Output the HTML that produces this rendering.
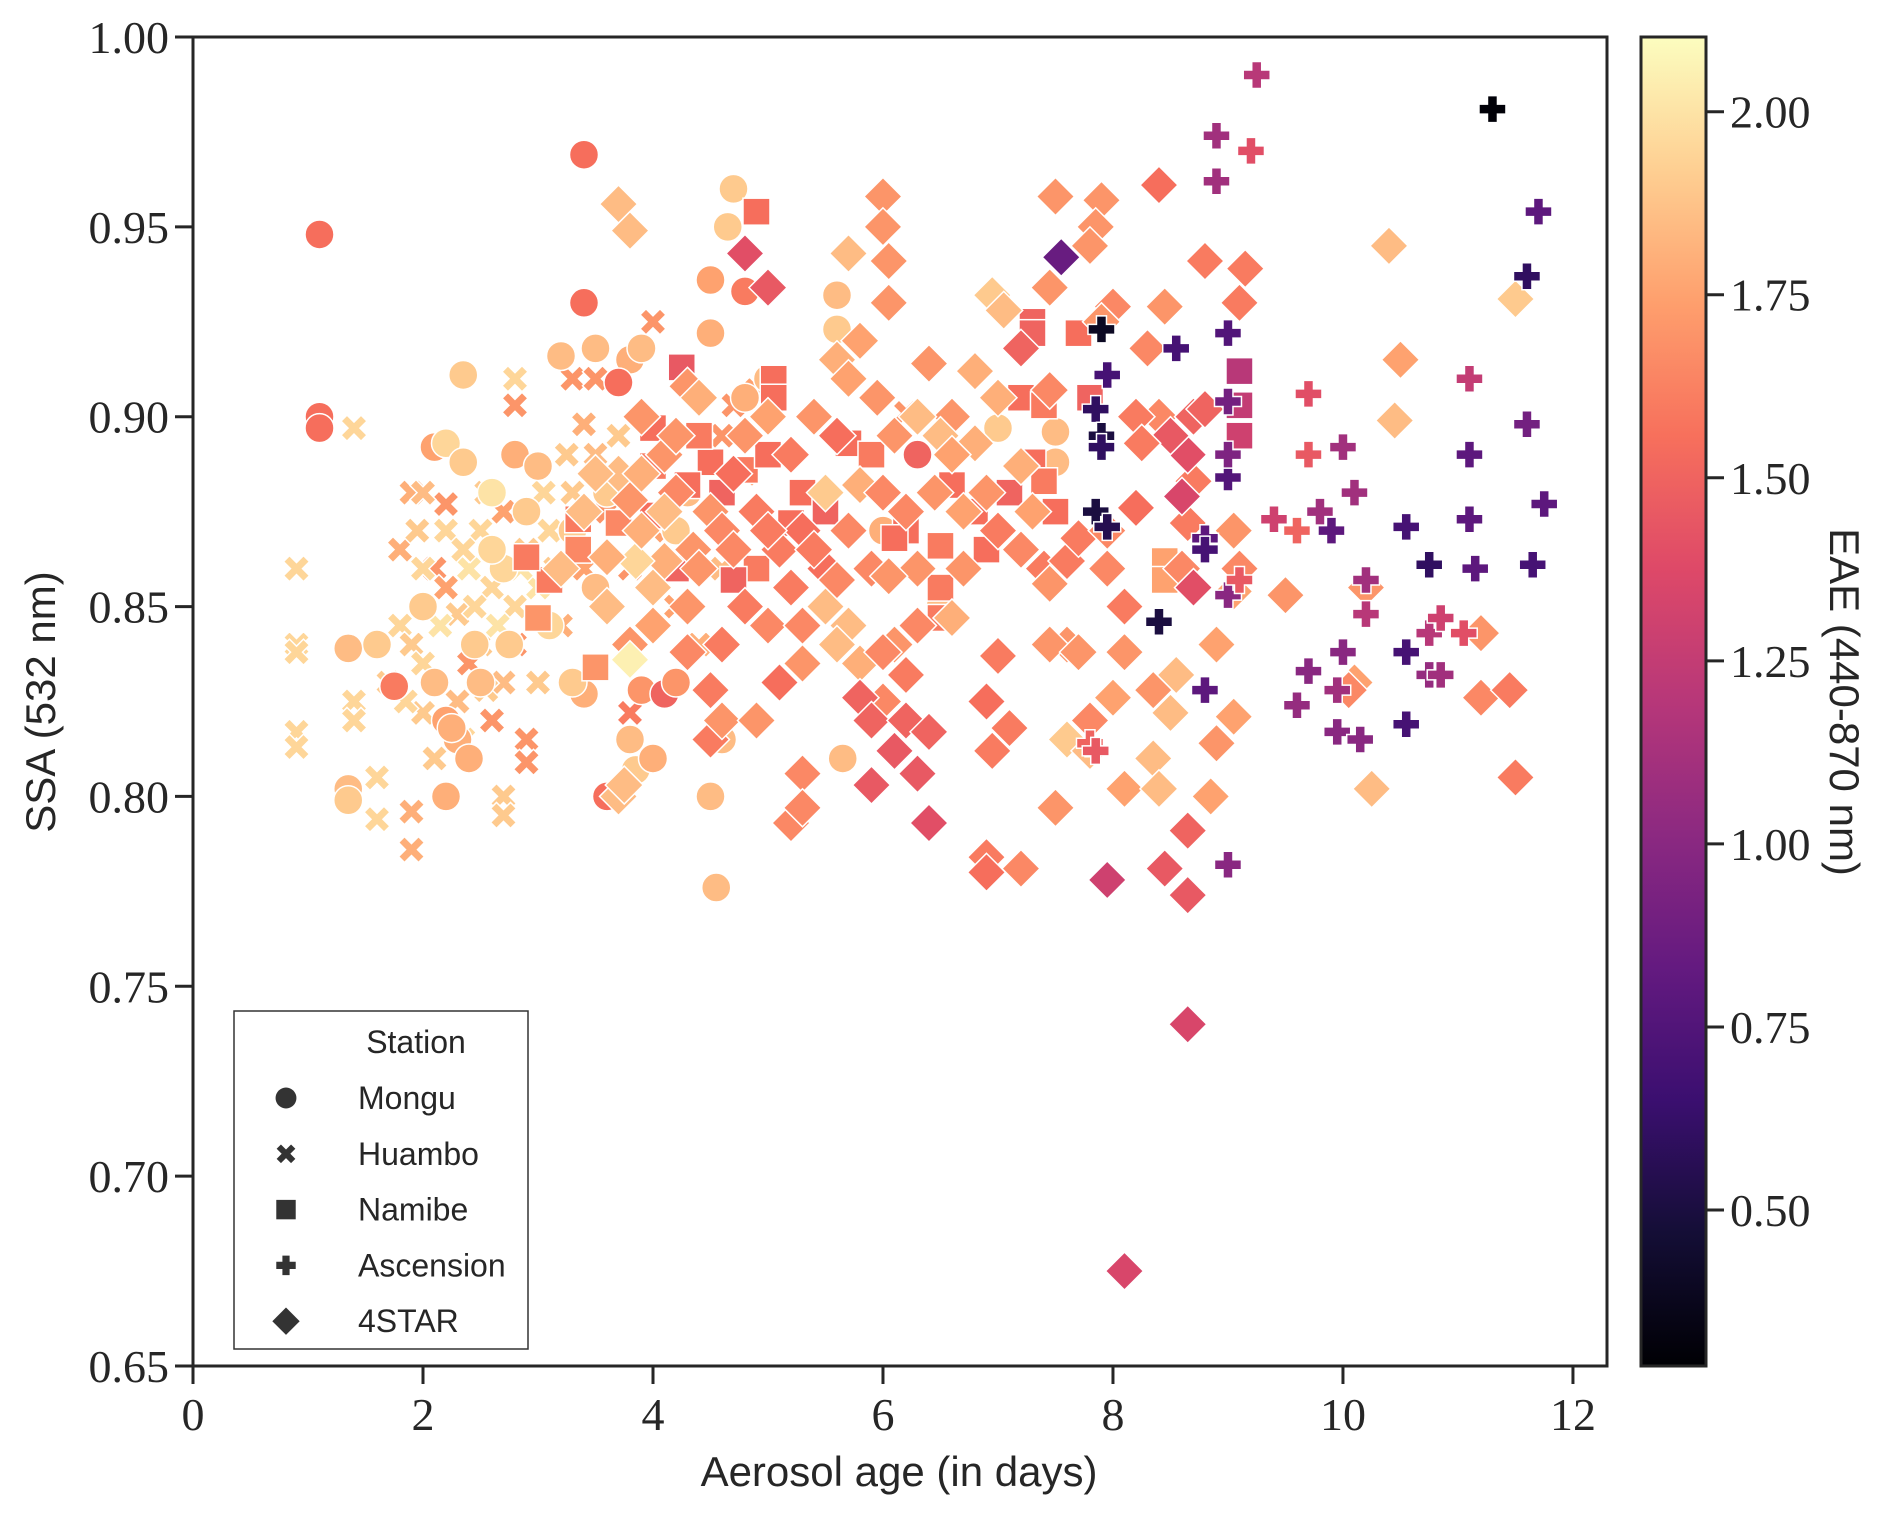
<!DOCTYPE html>
<html><head><meta charset="utf-8"><style>
html,body{margin:0;padding:0;background:#fff;}
svg{display:block;}
</style></head><body>
<svg id="chart" width="1892" height="1521" xmlns="http://www.w3.org/2000/svg">
<defs>
<linearGradient id="magma" x1="0" y1="1" x2="0" y2="0">
<stop offset="0" stop-color="#000004"/><stop offset="0.1" stop-color="#140e36"/><stop offset="0.2" stop-color="#3b0f70"/><stop offset="0.3" stop-color="#641a80"/><stop offset="0.4" stop-color="#8c2981"/><stop offset="0.5" stop-color="#b73779"/><stop offset="0.6" stop-color="#de4968"/><stop offset="0.7" stop-color="#f7705c"/><stop offset="0.8" stop-color="#fe9f6d"/><stop offset="0.9" stop-color="#fecf92"/><stop offset="1" stop-color="#fcfdbf"/>
</linearGradient>
</defs>
<g id="marks"></g>
<rect x="193" y="37" width="1414" height="1329" fill="none" stroke="#262626" stroke-width="3"/>
<g id="axes"></g>
<rect x="1641" y="37" width="65" height="1329" fill="url(#magma)" stroke="#262626" stroke-width="3"/>
<text x="899" y="1486" text-anchor="middle" font-family="Liberation Sans, sans-serif" font-size="42" fill="#262626">Aerosol age (in days)</text>
<text transform="translate(55,702) rotate(-90)" text-anchor="middle" font-family="Liberation Sans, sans-serif" font-size="42" fill="#262626">SSA (532 nm)</text>
<text transform="translate(1830,702) rotate(90)" text-anchor="middle" font-family="Liberation Sans, sans-serif" font-size="42" fill="#262626">EAE (440-870 nm)</text>
<g>
<rect x="234" y="1011" width="294" height="338" fill="#fff" stroke="#333" stroke-width="1.5"/>
<text x="416" y="1053" text-anchor="middle" font-family="Liberation Sans, sans-serif" font-size="32" fill="#262626">Station</text>
<g id="legend-entries"></g>
</g>
</svg>
<script>
// [age, ssa, eae]
const mongu=[[1.1,0.948,1.55],[1.1,0.900,1.55],[1.1,0.897,1.55],[3.4,0.969,1.55],[3.4,0.930,1.55],[2.35,0.911,1.9],[1.35,0.839,1.85],[1.35,0.802,1.85],[1.35,0.799,1.9],[1.6,0.840,1.9],[1.75,0.829,1.6],[2.1,0.892,1.75],[2.2,0.893,1.95],[2.2,0.82,1.75],[2.3,0.815,1.8],[2.4,0.81,1.8],[2.2,0.80,1.8],[2.5,0.83,1.85],[2.8,0.89,1.8],[3.0,0.887,1.85],[3.2,0.916,1.85],[3.5,0.918,1.85],[3.6,0.88,1.9],[3.8,0.915,1.8],[3.9,0.918,1.85],[4.5,0.936,1.75],[4.5,0.922,1.8],[4.7,0.96,1.9],[4.65,0.95,1.9],[4.8,0.933,1.6],[4.5,0.8,1.85],[4.55,0.776,1.85],[3.8,0.815,1.85],[3.85,0.807,1.9],[4.0,0.81,1.8],[3.4,0.827,1.8],[3.9,0.828,1.7],[4.1,0.827,1.5],[4.6,0.815,1.85],[5.6,0.932,1.85],[5.6,0.923,1.9],[5.65,0.81,1.85],[7.5,0.896,1.85],[7.5,0.888,1.85],[3.7,0.909,1.55],[4.3,0.88,1.85],[4.8,0.905,1.8],[5.0,0.91,1.85],[6.0,0.87,1.8],[6.3,0.89,1.5],[7.0,0.897,1.9],[6.5,0.85,1.85],[2.7,0.86,1.95],[3.3,0.83,1.9],[2.0,0.85,1.9],[2.6,0.88,2.0],[4.2,0.83,1.7],[3.6,0.8,1.55],[2.1,0.83,1.85],[2.25,0.818,1.8],[2.45,0.84,1.9],[2.6,0.865,1.95],[2.9,0.875,1.9],[3.1,0.845,1.95],[3.3,0.87,1.9],[3.5,0.855,1.85],[2.35,0.888,1.9],[2.75,0.84,1.9],[4.4,0.905,1.85],[4.2,0.87,1.9]];
const huambo=[[0.9,0.86,1.95],[0.9,0.84,1.95],[0.9,0.838,1.95],[0.9,0.817,1.95],[0.9,0.813,1.95],[1.4,0.897,1.95],[1.4,0.825,1.95],[1.4,0.82,1.95],[1.6,0.805,1.95],[1.6,0.794,1.95],[1.9,0.796,1.8],[1.9,0.786,1.8],[1.9,0.88,1.8],[2.1,0.86,1.7],[2.2,0.877,1.7],[2.8,0.91,1.95],[2.8,0.903,1.7],[2.9,0.815,1.7],[2.9,0.809,1.7],[2.7,0.80,1.9],[2.7,0.795,1.9],[3.3,0.91,1.7],[3.5,0.918,1.7],[3.5,0.91,1.7],[4.0,0.925,1.7],[3.4,0.898,1.8],[3.8,0.822,1.6],[4.9,0.907,1.75],[4.7,0.903,1.7],[6.2,0.901,1.7],[6.0,0.88,1.7],[1.8,0.845,1.95],[1.9,0.84,1.9],[2.0,0.835,1.95],[2.1,0.83,1.95],[2.3,0.848,1.9],[2.4,0.86,2.0],[2.5,0.87,1.95],[2.6,0.855,1.95],[2.5,0.84,1.9],[2.7,0.83,1.85],[2.8,0.85,1.95],[2.9,0.865,1.9],[3.0,0.855,2.0],[3.1,0.87,1.95],[2.2,0.87,1.95],[2.0,0.822,1.9],[2.3,0.825,1.85],[2.6,0.82,1.7],[2.8,0.84,1.7],[3.2,0.845,1.8],[3.4,0.86,1.75],[3.6,0.875,1.7],[3.8,0.86,1.7],[4.0,0.87,1.75],[4.2,0.85,1.75],[4.4,0.84,1.8],[4.6,0.86,1.85],[3.0,0.83,1.9],[1.8,0.865,1.8],[2.0,0.88,1.85],[2.2,0.855,1.75],[2.4,0.835,1.7],[2.7,0.875,1.75],[3.3,0.88,1.9],[3.5,0.89,1.85],[3.7,0.895,1.9],[1.7,0.83,1.9],[2.1,0.81,1.9],[2.35,0.815,1.95],[1.95,0.87,1.9],[2.15,0.845,2.0],[2.45,0.85,1.95],[2.55,0.88,1.9],[2.65,0.845,2.0],[2.85,0.86,2.0],[3.05,0.88,1.95],[3.15,0.86,1.9],[2.35,0.865,1.95],[2.0,0.86,1.95],[1.85,0.825,1.95],[2.55,0.828,1.9],[3.25,0.89,1.9],[4.6,0.895,1.7],[4.8,0.885,1.75]];
const namibe=[[4.25,0.913,1.45],[4.9,0.954,1.55],[5.05,0.91,1.55],[5.05,0.905,1.55],[4.0,0.897,1.55],[4.0,0.887,1.6],[3.35,0.873,1.6],[3.35,0.865,1.65],[3.1,0.857,1.6],[2.9,0.863,1.6],[3.0,0.847,1.7],[3.5,0.834,1.7],[4.0,0.874,1.55],[4.2,0.86,1.5],[4.6,0.88,1.5],[4.8,0.886,1.6],[5.0,0.89,1.55],[4.9,0.86,1.6],[4.7,0.857,1.5],[5.3,0.88,1.55],[5.5,0.875,1.5],[5.7,0.893,1.55],[5.9,0.89,1.6],[6.2,0.87,1.55],[6.5,0.866,1.6],[6.5,0.855,1.6],[6.5,0.847,1.6],[7.3,0.925,1.5],[7.3,0.922,1.5],[7.2,0.905,1.55],[7.4,0.903,1.6],[7.3,0.888,1.55],[7.4,0.883,1.6],[7.7,0.922,1.55],[7.8,0.905,1.5],[8.45,0.862,1.75],[8.45,0.857,1.75],[9.1,0.912,1.2],[9.1,0.903,1.25],[9.1,0.895,1.3],[6.9,0.865,1.55],[6.8,0.875,1.55],[6.1,0.868,1.55],[4.5,0.888,1.55],[4.4,0.895,1.6],[6.6,0.882,1.55],[5.2,0.872,1.55],[4.3,0.882,1.55],[3.7,0.872,1.65],[7.1,0.88,1.5],[7.5,0.875,1.55]];
const ascension=[[9.25,0.99,1.2],[11.3,0.981,0.3],[8.9,0.974,1.1],[9.2,0.97,1.4],[8.9,0.962,1.1],[11.7,0.954,0.8],[11.6,0.937,0.6],[7.9,0.923,0.4],[9.0,0.922,0.75],[8.55,0.918,0.7],[7.95,0.911,0.7],[7.85,0.902,0.6],[9.0,0.904,0.9],[7.9,0.895,0.5],[7.9,0.892,0.6],[9.0,0.884,0.75],[9.0,0.89,0.95],[11.1,0.91,1.25],[11.1,0.89,0.8],[11.6,0.898,0.9],[11.75,0.877,0.8],[9.7,0.906,1.4],[10.0,0.892,1.1],[10.1,0.88,1.1],[9.7,0.89,1.45],[9.4,0.873,1.3],[9.8,0.875,1.1],[9.6,0.87,1.5],[9.9,0.87,0.8],[10.2,0.857,1.1],[10.2,0.848,1.2],[10.55,0.871,0.7],[10.75,0.861,0.6],[11.1,0.873,0.8],[11.15,0.86,0.8],[11.65,0.861,0.7],[8.4,0.846,0.5],[8.8,0.868,0.8],[8.8,0.865,0.7],[9.0,0.853,1.0],[9.1,0.857,1.45],[7.85,0.875,0.5],[7.95,0.871,0.55],[10.0,0.838,1.0],[9.7,0.833,1.0],[9.6,0.824,1.05],[9.95,0.828,1.1],[9.95,0.817,1.0],[10.15,0.815,1.0],[10.55,0.838,0.7],[10.55,0.819,0.7],[10.75,0.843,1.2],[10.85,0.847,1.3],[10.75,0.832,1.05],[11.05,0.843,1.4],[8.8,0.828,0.8],[9.0,0.782,1.0],[7.8,0.814,1.5],[7.85,0.812,1.45],[10.85,0.832,1.1]];
const star4=[[3.7,0.956,1.85],[3.8,0.949,1.85],[6.0,0.958,1.7],[6.0,0.95,1.7],[4.8,0.943,1.4],[5.0,0.934,1.45],[5.7,0.943,1.85],[6.05,0.941,1.7],[6.05,0.93,1.7],[7.5,0.958,1.7],[7.9,0.957,1.7],[7.85,0.95,1.7],[7.8,0.945,1.7],[8.4,0.961,1.55],[8.8,0.941,1.6],[9.15,0.939,1.6],[9.1,0.93,1.6],[7.55,0.942,0.85],[7.45,0.934,1.7],[6.95,0.932,1.9],[7.05,0.928,1.85],[10.4,0.945,1.85],[11.5,0.931,1.9],[10.5,0.915,1.75],[10.45,0.899,1.85],[8.0,0.929,1.65],[8.45,0.929,1.7],[7.2,0.918,1.5],[7.9,0.925,1.7],[8.3,0.918,1.65],[8.4,0.9,1.65],[7.45,0.907,1.65],[6.4,0.914,1.7],[5.8,0.92,1.75],[5.6,0.915,1.8],[5.7,0.91,1.75],[5.95,0.905,1.7],[6.8,0.912,1.8],[7.0,0.905,1.8],[6.6,0.9,1.7],[6.3,0.9,1.85],[5.0,0.9,1.75],[4.8,0.895,1.7],[4.3,0.908,1.7],[4.4,0.905,1.8],[4.1,0.89,1.7],[3.7,0.885,1.85],[3.8,0.878,1.7],[4.5,0.875,1.7],[4.35,0.865,1.7],[4.1,0.862,1.8],[3.85,0.862,1.95],[3.6,0.863,1.8],[3.6,0.85,1.85],[3.8,0.84,1.7],[3.8,0.836,2.05],[4.0,0.845,1.75],[4.3,0.85,1.7],[4.6,0.84,1.6],[4.8,0.85,1.6],[5.0,0.845,1.65],[5.2,0.855,1.6],[5.3,0.845,1.65],[5.1,0.83,1.55],[5.3,0.835,1.7],[5.5,0.85,1.85],[5.7,0.845,1.85],[5.8,0.835,1.8],[5.9,0.86,1.65],[5.7,0.87,1.65],[5.5,0.88,1.9],[5.8,0.882,1.8],[6.0,0.88,1.65],[6.2,0.875,1.65],[5.6,0.895,1.55],[6.1,0.895,1.7],[6.5,0.895,1.85],[6.8,0.893,1.8],[6.9,0.88,1.7],[7.2,0.887,1.8],[7.0,0.87,1.6],[7.2,0.865,1.65],[7.4,0.86,1.6],[7.45,0.856,1.7],[7.6,0.862,1.6],[7.7,0.868,1.6],[7.95,0.86,1.65],[7.6,0.84,1.7],[7.45,0.84,1.7],[7.0,0.837,1.6],[6.6,0.847,1.8],[6.1,0.84,1.7],[6.0,0.838,1.65],[6.0,0.825,1.65],[5.8,0.826,1.5],[5.9,0.82,1.5],[6.2,0.82,1.5],[6.1,0.812,1.45],[6.4,0.817,1.5],[5.9,0.803,1.45],[6.3,0.806,1.45],[6.4,0.793,1.4],[5.3,0.806,1.65],[5.2,0.793,1.65],[5.3,0.797,1.65],[4.5,0.828,1.6],[4.5,0.815,1.6],[4.6,0.82,1.7],[3.7,0.8,1.85],[3.75,0.803,1.85],[6.9,0.825,1.55],[6.95,0.812,1.6],[7.1,0.818,1.6],[6.9,0.784,1.6],[6.9,0.78,1.55],[7.2,0.781,1.65],[7.5,0.797,1.7],[7.8,0.82,1.65],[7.7,0.838,1.7],[7.6,0.815,1.9],[7.8,0.812,1.85],[8.1,0.838,1.7],[8.0,0.826,1.75],[8.1,0.802,1.75],[8.35,0.828,1.7],[8.35,0.81,1.85],[8.4,0.802,1.85],[8.55,0.832,1.85],[8.5,0.822,1.85],[8.85,0.8,1.75],[8.9,0.814,1.7],[9.05,0.821,1.75],[8.9,0.84,1.75],[8.1,0.85,1.6],[8.6,0.86,1.65],[8.65,0.872,1.6],[8.7,0.855,1.4],[8.7,0.883,1.6],[8.65,0.89,1.4],[8.7,0.9,1.5],[8.5,0.895,1.45],[8.2,0.9,1.6],[8.25,0.893,1.6],[8.2,0.876,1.55],[7.95,0.87,1.65],[8.6,0.879,1.35],[8.8,0.902,1.5],[9.05,0.87,1.7],[9.5,0.853,1.7],[10.2,0.855,1.7],[10.1,0.83,1.75],[10.05,0.828,1.65],[10.25,0.802,1.85],[11.2,0.843,1.7],[11.2,0.826,1.65],[11.45,0.828,1.6],[11.5,0.805,1.6],[8.65,0.791,1.5],[8.45,0.781,1.45],[8.65,0.774,1.45],[7.95,0.778,1.3],[8.65,0.74,1.35],[8.1,0.675,1.35],[9.05,0.854,1.75],[9.1,0.86,1.65],[4.9,0.82,1.7],[5.3,0.87,1.55],[5.5,0.86,1.55],[4.6,0.87,1.65],[4.9,0.875,1.6],[4.2,0.88,1.65],[4.2,0.895,1.7],[3.9,0.9,1.7],[4.7,0.885,1.55],[5.2,0.89,1.6],[6.3,0.86,1.7],[6.7,0.875,1.75],[6.45,0.88,1.7],[3.2,0.86,1.85],[3.4,0.875,1.85],[3.5,0.885,1.85],[3.9,0.87,1.8],[4.1,0.875,1.85],[4.4,0.86,1.7],[4.7,0.865,1.65],[5.1,0.865,1.6],[5.4,0.865,1.6],[5.6,0.857,1.65],[6.05,0.858,1.7],[6.3,0.845,1.65],[6.2,0.832,1.6],[5.6,0.84,1.85],[5.0,0.87,1.6],[4.3,0.838,1.65],[4.0,0.855,1.85],[3.9,0.885,1.8],[6.7,0.86,1.7],[7.3,0.875,1.75],[6.6,0.89,1.75],[5.4,0.9,1.7]];
const xTicks=[0,2,4,6,8,10,12];
const yTicks=[0.65,0.70,0.75,0.80,0.85,0.90,0.95,1.00];
const cTicks=[0.50,0.75,1.00,1.25,1.50,1.75,2.00];
const stations=["Mongu","Huambo","Namibe","Ascension","4STAR"];

const X0=193,X1=1607,Y0=37,Y1=1366;
const XMIN=0,XMAX=12.296,YMIN=0.65,YMAX=1.0,CMIN=0.287,CMAX=2.102;
const sx=v=>X0+(v-XMIN)/(XMAX-XMIN)*(X1-X0);
const sy=v=>Y1-(v-YMIN)/(YMAX-YMIN)*(Y1-Y0);
const sc=v=>Y1-(v-CMIN)/(CMAX-CMIN)*(Y1-Y0);
const stops=[[0,0,4],[20,14,54],[59,15,112],[100,26,128],[140,41,129],[183,55,121],[222,73,104],[247,112,92],[254,159,109],[254,207,146],[252,253,191]];
function magma(v){let t=(v-CMIN)/(CMAX-CMIN);t=Math.max(0,Math.min(1,t))*10;const i=Math.min(9,Math.floor(t)),f=t-i;const a=stops[i],b=stops[i+1];return 'rgb('+[0,1,2].map(k=>Math.round(a[k]+(b[k]-a[k])*f)).join(',')+')';}
const NS='http://www.w3.org/2000/svg';
function shape(kind,cx,cy,fill,scale){
  const s=scale||1;let el;
  if(kind==='Mongu'){el=document.createElementNS(NS,'circle');el.setAttribute('cx',cx);el.setAttribute('cy',cy);el.setAttribute('r',14.5*s);}
  else if(kind==='Namibe'){el=document.createElementNS(NS,'rect');const h=13.5*s;el.setAttribute('x',cx-h);el.setAttribute('y',cy-h);el.setAttribute('width',2*h);el.setAttribute('height',2*h);}
  else if(kind==='4STAR'){el=document.createElementNS(NS,'path');const h=19*s;el.setAttribute('d',`M${cx} ${cy-h}L${cx+h} ${cy}L${cx} ${cy+h}L${cx-h} ${cy}Z`);}
  else if(kind==='Ascension'){el=document.createElementNS(NS,'path');const a=13.5*s,b=5*s;el.setAttribute('d',`M${cx-b} ${cy-a}H${cx+b}V${cy-b}H${cx+a}V${cy+b}H${cx+b}V${cy+a}H${cx-b}V${cy+b}H${cx-a}V${cy-b}H${cx-b}Z`);}
  else {el=document.createElementNS(NS,'path');const a=13*s,w=6*s;el.setAttribute('d',`M${cx-a} ${cy-a+w}L${cx-a+w} ${cy-a}L${cx} ${cy-w}L${cx+a-w} ${cy-a}L${cx+a} ${cy-a+w}L${cx+w} ${cy}L${cx+a} ${cy+a-w}L${cx+a-w} ${cy+a}L${cx} ${cy+w}L${cx-a+w} ${cy+a}L${cx-a} ${cy+a-w}L${cx-w} ${cy}Z`);}
  el.setAttribute('fill',fill);
  return el;
}
const marks=document.getElementById('marks');
const sets=[["Huambo",huambo],["Mongu",mongu],["Namibe",namibe],["4STAR",star4],["Ascension",ascension]];
sets.forEach(([name,arr])=>{
  arr.forEach(p=>{
    const el=shape(name,sx(p[0]),sy(p[1]),magma(p[2]));
    el.setAttribute('stroke','#fff');el.setAttribute('stroke-width','1.5');
    
    
    marks.appendChild(el);
  });
});
const axes=document.getElementById('axes');
function line(x1,y1,x2,y2,nm){const l=document.createElementNS(NS,'line');l.setAttribute('x1',x1);l.setAttribute('y1',y1);l.setAttribute('x2',x2);l.setAttribute('y2',y2);l.setAttribute('stroke','#262626');l.setAttribute('stroke-width','3');


axes.appendChild(l);}
function txt(x,y,s,anchor,nm){const t=document.createElementNS(NS,'text');t.setAttribute('x',x);t.setAttribute('y',y);t.setAttribute('text-anchor',anchor);t.setAttribute('font-family','Liberation Serif, serif');t.setAttribute('font-size','46');t.setAttribute('fill','#262626');t.textContent=s;


axes.appendChild(t);}
xTicks.forEach(v=>{const x=sx(v);line(x,Y1,x,Y1+18,'x-tick');txt(x,Y1+64,String(v),'middle','x-tick-label');});
yTicks.forEach(v=>{const y=sy(v);line(X0-18,y,X0,y,'y-tick');txt(X0-24,y+16,v.toFixed(2),'end','y-tick-label');});
cTicks.forEach(v=>{const y=sc(v);line(1706,y,1724,y,'colorbar-tick');txt(1730,y+16,v.toFixed(2),'start','colorbar-tick-label');});
const leg=document.getElementById('legend-entries');
stations.forEach((s,i)=>{const y=1098+i*55.8;
  const el=shape(s,286,y,'#333',0.72);
  
  
  leg.appendChild(el);
  const t=document.createElementNS(NS,'text');t.setAttribute('x',358);t.setAttribute('y',y+11);t.setAttribute('font-family','Liberation Sans, sans-serif');t.setAttribute('font-size','32');t.setAttribute('fill','#262626');t.textContent=s;
  
  
  leg.appendChild(t);
});
</script>
</body></html>
